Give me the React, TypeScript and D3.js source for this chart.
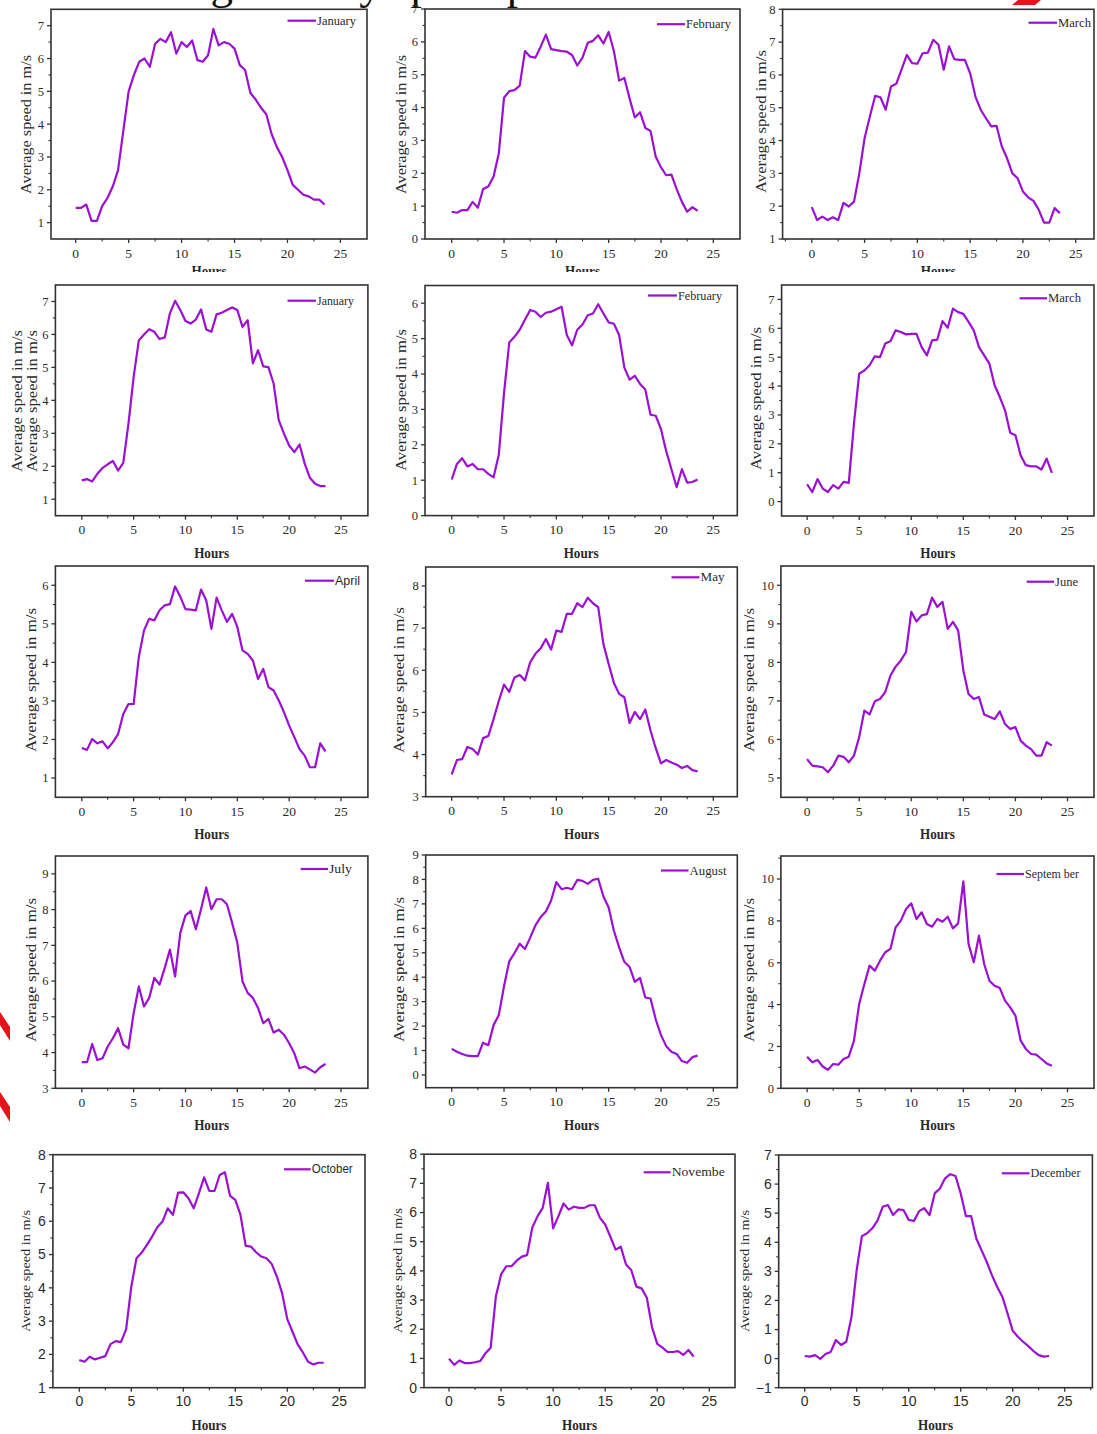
import React from 'react';
import * as d3 from 'd3';

// ---------- data ----------
const HOURS = [0, 0.5, 1, 1.5, 2, 2.5, 3, 3.5, 4, 4.5, 5, 5.5, 6, 6.5, 7, 7.5, 8, 8.5, 9, 9.5, 10, 10.5, 11, 11.5, 12, 12.5, 13, 13.5, 14, 14.5, 15, 15.5, 16, 16.5, 17, 17.5, 18, 18.5, 19, 19.5, 20, 20.5, 21, 21.5, 22, 22.5, 23, 23.5];
const X_TICKS = [0, 5, 10, 15, 20, 25];

const janA = [1.45,1.45,1.55,1.05,1.05,1.5,1.75,2.1,2.6,3.8,5.0,5.5,5.9,6.0,5.75,6.45,6.6,6.5,6.8,6.15,6.5,6.35,6.55,5.95,5.9,6.1,6.9,6.4,6.5,6.45,6.3,5.8,5.65,4.95,4.75,4.5,4.3,3.7,3.3,3.0,2.6,2.15,2.0,1.85,1.8,1.7,1.7,1.55];
const febA = [0.83,0.8,0.88,0.88,1.13,0.95,1.52,1.6,1.9,2.6,4.3,4.5,4.53,4.67,5.72,5.55,5.52,5.85,6.22,5.78,5.75,5.72,5.7,5.6,5.28,5.52,5.97,6.03,6.2,5.95,6.3,5.72,4.82,4.9,4.28,3.7,3.86,3.38,3.29,2.5,2.18,1.94,1.96,1.52,1.13,0.83,0.97,0.86];
const marA = [1.97,1.58,1.68,1.58,1.66,1.58,2.1,1.99,2.14,3.0,4.07,4.73,5.36,5.32,4.94,5.65,5.73,6.16,6.61,6.36,6.34,6.66,6.68,7.07,6.92,6.16,6.87,6.48,6.46,6.46,6.05,5.34,4.94,4.68,4.43,4.45,3.82,3.46,3.0,2.85,2.45,2.27,2.16,1.89,1.5,1.5,1.94,1.79];
const janB = [1.57,1.61,1.54,1.77,1.95,2.06,2.16,1.87,2.1,3.29,4.71,5.82,6.0,6.16,6.08,5.86,5.91,6.64,7.02,6.74,6.41,6.33,6.45,6.76,6.15,6.08,6.61,6.66,6.74,6.82,6.74,6.23,6.43,5.12,5.52,5.03,5.01,4.51,3.39,2.99,2.63,2.43,2.66,2.08,1.65,1.47,1.4,1.4];
const febB = [1.02,1.46,1.62,1.39,1.46,1.31,1.31,1.18,1.08,1.72,3.46,4.89,5.05,5.25,5.53,5.81,5.76,5.61,5.73,5.76,5.83,5.9,5.1,4.81,5.25,5.4,5.66,5.71,5.97,5.71,5.46,5.42,5.1,4.18,3.84,3.95,3.72,3.56,2.85,2.82,2.44,1.82,1.31,0.8,1.31,0.93,0.95,1.02];
const marB = [0.6,0.33,0.78,0.45,0.33,0.57,0.45,0.68,0.65,2.7,4.43,4.54,4.72,5.03,5.0,5.47,5.55,5.93,5.87,5.79,5.81,5.81,5.35,5.06,5.58,5.61,6.25,6.02,6.68,6.56,6.5,6.22,5.93,5.35,5.06,4.78,4.03,3.62,3.16,2.38,2.3,1.6,1.26,1.22,1.22,1.11,1.49,0.99];
const apr = [1.78,1.73,2.01,1.9,1.95,1.77,1.93,2.14,2.66,2.92,2.92,4.14,4.83,5.13,5.09,5.35,5.48,5.51,5.97,5.7,5.38,5.37,5.35,5.89,5.61,4.87,5.68,5.35,5.05,5.26,4.92,4.31,4.22,4.05,3.57,3.83,3.36,3.27,3.01,2.71,2.36,2.06,1.75,1.58,1.28,1.28,1.9,1.69];
const may = [3.53,3.87,3.89,4.18,4.13,4.0,4.39,4.44,4.84,5.27,5.66,5.49,5.83,5.89,5.76,6.19,6.39,6.52,6.74,6.49,6.94,6.91,7.34,7.34,7.59,7.5,7.72,7.59,7.5,6.62,6.15,5.7,5.44,5.36,4.75,5.01,4.84,5.07,4.57,4.15,3.79,3.87,3.81,3.76,3.68,3.73,3.63,3.6];
const jun = [5.49,5.32,5.3,5.28,5.15,5.32,5.58,5.55,5.41,5.58,6.06,6.75,6.65,6.99,7.05,7.23,7.66,7.89,8.05,8.27,9.31,9.06,9.22,9.25,9.68,9.44,9.57,8.87,9.05,8.83,7.79,7.18,7.05,7.1,6.65,6.59,6.53,6.73,6.4,6.27,6.32,5.97,5.84,5.75,5.58,5.58,5.93,5.84];
const jul = [3.73,3.73,4.24,3.79,3.84,4.17,4.4,4.68,4.22,4.12,5.1,5.85,5.29,5.53,6.09,5.9,6.37,6.88,6.13,7.35,7.84,7.96,7.45,8.01,8.62,8.01,8.29,8.29,8.15,7.63,7.07,5.99,5.67,5.53,5.25,4.82,4.94,4.56,4.64,4.5,4.26,3.98,3.56,3.61,3.53,3.44,3.59,3.68];
const aug = [1.07,0.95,0.86,0.79,0.77,0.77,1.32,1.22,2.04,2.45,3.63,4.65,4.99,5.37,5.15,5.62,6.12,6.46,6.69,7.14,7.89,7.6,7.66,7.6,7.98,7.94,7.82,7.98,8.03,7.3,6.85,5.9,5.22,4.63,4.42,3.81,3.97,3.17,3.13,2.27,1.63,1.18,0.95,0.86,0.57,0.5,0.73,0.79];
const sep = [1.51,1.24,1.35,1.04,0.88,1.16,1.13,1.4,1.51,2.28,4.03,4.98,5.86,5.62,6.1,6.5,6.66,7.69,8.01,8.57,8.84,8.09,8.41,7.85,7.72,8.09,7.96,8.2,7.64,7.88,9.89,6.9,6.02,7.29,5.94,5.14,4.9,4.79,4.19,3.87,3.47,2.28,1.88,1.64,1.61,1.4,1.19,1.08];
const oct = [1.83,1.78,1.93,1.85,1.9,1.95,2.31,2.4,2.37,2.75,4.04,4.89,5.06,5.29,5.54,5.82,5.99,6.39,6.19,6.86,6.87,6.69,6.39,6.84,7.32,6.91,6.91,7.39,7.47,6.76,6.64,6.19,5.26,5.24,5.07,4.94,4.89,4.72,4.34,3.84,3.06,2.68,2.3,2.06,1.78,1.7,1.75,1.75];
const nov = [0.99,0.78,0.93,0.84,0.84,0.87,0.91,1.18,1.37,3.12,3.88,4.16,4.16,4.35,4.49,4.54,5.49,5.87,6.16,7.02,5.46,5.87,6.31,6.1,6.2,6.16,6.16,6.25,6.25,5.82,5.59,5.17,4.73,4.83,4.22,4.03,3.46,3.4,3.08,2.07,1.5,1.37,1.22,1.22,1.25,1.12,1.29,1.06];
const dec = [0.09,0.07,0.12,-0.01,0.16,0.23,0.64,0.47,0.58,1.44,3.05,4.21,4.31,4.48,4.74,5.22,5.28,4.94,5.13,5.11,4.77,4.73,5.07,5.17,4.93,5.68,5.85,6.2,6.34,6.28,5.68,4.9,4.9,4.13,3.73,3.33,2.87,2.47,2.13,1.56,0.96,0.75,0.58,0.43,0.26,0.12,0.07,0.09];

const CAPTION = 'Average hourly speed profile';

// ---------- layout ----------
const SERIF = '"Liberation Serif", "Times New Roman", serif';
const SANS = '"Liberation Sans", Arial, sans-serif';
const PURPLE = '#9b10d2';
const INK = '#2a2a2a';

type Panel = {
  data: number[];
  label: string;
  left: number; right: number; top: number; bottom: number;
  x0: number; x25: number;
  yDomain: [number, number];
  yTicks: number[];
  yMinor: number;
  legend: [number, number, number, number];
  titles: number[];
  titleSpan: [number, number];
  row5?: boolean;
  legendSans?: boolean;
  hoursDy?: number;
};

const P: Panel[] = [
  { data: janA, label: 'January', left: 51, right: 367, top: 9.3, bottom: 239, x0: 75.7, x25: 340.4, yDomain: [0.5, 7.5], yTicks: [1,2,3,4,5,6,7], yMinor: 0.5, legend: [287.5, 316, 20.7, 39], titles: [25.5], titleSpan: [55, 194], hoursDy: 37 },
  { data: febA, label: 'February', left: 425, right: 740, top: 9, bottom: 239, x0: 451.7, x25: 713.3, yDomain: [0, 7], yTicks: [0,1,2,3,4,5,6,7], yMinor: 0.5, legend: [657, 685, 24.2, 45], titles: [400], titleSpan: [55, 194], hoursDy: 37 },
  { data: marA, label: 'March', left: 782.6, right: 1094, top: 9.3, bottom: 239, x0: 811.8, x25: 1075.7, yDomain: [1, 8], yTicks: [1,2,3,4,5,6,7,8], yMinor: 0.5, legend: [1028.5, 1057, 22.7, 33], titles: [760], titleSpan: [50, 193], hoursDy: 37 },
  { data: janB, label: 'January', left: 55.4, right: 367.9, top: 285, bottom: 515.7, x0: 81.8, x25: 341, yDomain: [0.5, 7.5], yTicks: [1,2,3,4,5,6,7], yMinor: 0.5, legend: [287.5, 316, 300.7, 37], titles: [16, 31], titleSpan: [330, 472] },
  { data: febB, label: 'February', left: 425, right: 737.3, top: 285.5, bottom: 515.6, x0: 451.7, x25: 713.3, yDomain: [0, 6.5], yTicks: [0,1,2,3,4,5,6], yMinor: 0.5, legend: [648, 677, 295.5, 44], titles: [400], titleSpan: [329, 471] },
  { data: marB, label: 'March', left: 781.6, right: 1094, top: 285, bottom: 516, x0: 807.1, x25: 1067.5, yDomain: [-0.5, 7.5], yTicks: [0,1,2,3,4,5,6,7], yMinor: 0.5, legend: [1019.6, 1047, 298.3, 33], titles: [755], titleSpan: [327, 470] },
  { data: apr, label: 'April', left: 55.4, right: 367.9, top: 566, bottom: 797.3, x0: 81.8, x25: 341, yDomain: [0.5, 6.5], yTicks: [1,2,3,4,5,6], yMinor: 0.5, legend: [305, 334, 580.7, 25], titles: [30], titleSpan: [608, 752], legendSans: true },
  { data: may, label: 'May', left: 425.7, right: 737.3, top: 567, bottom: 796.7, x0: 451.7, x25: 713.3, yDomain: [3, 8.45], yTicks: [3,4,5,6,7,8], yMinor: 0.5, legend: [671.5, 699.5, 577.3, 24], titles: [398], titleSpan: [607, 753] },
  { data: jun, label: 'June', left: 780.9, right: 1094, top: 566, bottom: 797.3, x0: 807.1, x25: 1067.5, yDomain: [4.5, 10.5], yTicks: [5,6,7,8,9,10], yMinor: 0.5, legend: [1026.7, 1054, 581.7, 23], titles: [748], titleSpan: [608, 752] },
  { data: jul, label: 'July', left: 55.4, right: 367.9, top: 856, bottom: 1088.3, x0: 81.8, x25: 341, yDomain: [3, 9.5], yTicks: [3,4,5,6,7,8,9], yMinor: 0.5, legend: [300.7, 328, 869, 23], titles: [30], titleSpan: [898, 1042] },
  { data: aug, label: 'August', left: 425.7, right: 737.3, top: 855, bottom: 1087.7, x0: 451.7, x25: 713.3, yDomain: [-0.52, 9], yTicks: [0,1,2,3,4,5,6,7,8,9], yMinor: 0.5, legend: [661, 688.5, 870.5, 37], titles: [398], titleSpan: [897, 1042] },
  { data: sep, label: 'Septem ber', left: 780.9, right: 1094, top: 856, bottom: 1088.3, x0: 807.1, x25: 1067.5, yDomain: [0, 11.1], yTicks: [0,2,4,6,8,10], yMinor: 1, legend: [996.5, 1024, 874, 54], titles: [748], titleSpan: [898, 1042] },
  { data: oct, label: 'October', left: 52.9, right: 365, top: 1154.7, bottom: 1387.7, x0: 79.3, x25: 339.3, yDomain: [1, 8], yTicks: [1,2,3,4,5,6,7,8], yMinor: 0.5, legend: [284, 310.7, 1169.3, 41], titles: [25.5], titleSpan: [1210, 1332], row5: true, legendSans: true },
  { data: nov, label: 'Novembe', left: 424, right: 735, top: 1154.2, bottom: 1387.6, x0: 449, x25: 709.3, yDomain: [0, 8], yTicks: [0,1,2,3,4,5,6,7,8], yMinor: 0.5, legend: [643.7, 670.7, 1172.3, 53], titles: [397], titleSpan: [1208, 1333], row5: true },
  { data: dec, label: 'December', left: 778.7, right: 1092.4, top: 1155, bottom: 1387.7, x0: 804.7, x25: 1064.7, yDomain: [-1, 7], yTicks: [-1,0,1,2,3,4,5,6,7], yMinor: 0.5, legend: [1001.8, 1029.5, 1173.3, 50], titles: [744], titleSpan: [1210, 1332], row5: true },
];

function fmt(v: number) {
  return v < 0 ? '\u2212' + Math.abs(v) : String(v);
}

function PanelView({ p }: { p: Panel }) {
  const x = d3.scaleLinear().domain([0, 25]).range([p.x0, p.x25]);
  const y = d3.scaleLinear().domain(p.yDomain).range([p.bottom, p.top]);
  const line = d3.line<number>().x((_, i) => x(HOURS[i])).y((d) => y(d));
  const xMinor = d3.range(-2.5, 28, 2.5).filter((v) => Math.abs(v % 5) > 0.01 && x(v) > p.left + 1 && x(v) < p.right - 1);
  const yMinorTicks = d3
    .range(Math.ceil(p.yDomain[0] / p.yMinor) * p.yMinor, p.yDomain[1] + 1e-6, p.yMinor)
    .filter((v) => !p.yTicks.some((t) => Math.abs(t - v) < 1e-6) && y(v) < p.bottom - 1 && y(v) > p.top + 1);
  const tickFont = p.row5 ? SANS : SERIF;
  const yFs = p.row5 ? 14 : 12.5;
  const xFs = p.row5 ? 14 : 13.5;
  const titleMid = (p.titleSpan[0] + p.titleSpan[1]) / 2;
  const titleLen = p.titleSpan[1] - p.titleSpan[0];
  const [lx1, lx2, ly, lw] = p.legend;
  return (
    <g>
      <path d={line(p.data) || ''} fill="none" stroke={PURPLE} strokeWidth={2.2} strokeLinejoin="round" />
      <rect x={p.left} y={p.top} width={p.right - p.left} height={p.bottom - p.top} fill="none" stroke="#333" strokeWidth={1.6} />
      {X_TICKS.map((t) => (
        <g key={'xt' + t}>
          <line x1={x(t)} x2={x(t)} y1={p.bottom} y2={p.bottom + 4} stroke="#333" strokeWidth={1.3} />
          <text x={x(t)} y={p.bottom + 18.5} textAnchor="middle" fontFamily={tickFont} fontSize={xFs} fill={INK}>{t}</text>
        </g>
      ))}
      {xMinor.map((t) => (
        <line key={'xm' + t} x1={x(t)} x2={x(t)} y1={p.bottom} y2={p.bottom + 2.5} stroke="#333" strokeWidth={1.1} />
      ))}
      {p.yTicks.map((t) => (
        <g key={'yt' + t}>
          <line x1={p.left - 4} x2={p.left} y1={y(t)} y2={y(t)} stroke="#333" strokeWidth={1.3} />
          <text x={p.left - 7} y={y(t)} dy="0.35em" textAnchor="end" fontFamily={tickFont} fontSize={yFs} fill={INK}>{fmt(t)}</text>
        </g>
      ))}
      {yMinorTicks.map((t) => (
        <line key={'ym' + t} x1={p.left - 2.5} x2={p.left} y1={y(t)} y2={y(t)} stroke="#333" strokeWidth={1.1} />
      ))}
      {p.titles.map((tx, i) => (
        <text
          key={'ti' + i}
          transform={`translate(${tx + (p.row5 ? 4.5 : 5.5)},${titleMid}) rotate(-90)`}
          textAnchor="middle"
          fontFamily={SERIF}
          fontSize={p.row5 ? 12 : 15}
          fill={INK}
          textLength={titleLen}
          lengthAdjust="spacingAndGlyphs"
        >
          Average speed in m/s
        </text>
      ))}
      <text x={(p.left + p.right) / 2} y={p.bottom + (p.hoursDy ?? 42)} textAnchor="middle" fontFamily={SERIF} fontWeight="bold" fontSize={14} fill={INK} textLength={35} lengthAdjust="spacingAndGlyphs">
        Hours
      </text>
      <line x1={lx1} x2={lx2} y1={ly} y2={ly} stroke={PURPLE} strokeWidth={2.2} />
      <text x={lx2 + 1} y={ly + 4} fontFamily={p.legendSans ? SANS : SERIF} fontSize={12} fill={INK} textLength={lw} lengthAdjust="spacingAndGlyphs">
        {p.label}
      </text>
    </g>
  );
}

export default function App() {
  return (
    <svg width={1097} height={1434} viewBox="0 0 1097 1434" style={{ position: 'absolute', left: 0, top: 0, background: '#fff' }}>
      <defs>
        <clipPath id="row1clip">
          <rect x={0} y={0} width={1097} height={272} />
        </clipPath>
      </defs>
      <rect x={0} y={0} width={1097} height={1434} fill="#fff" />
      <text x={104} y={-1.5} fontFamily={SERIF} fontSize={45} fill="#111">{CAPTION}</text>
      <g clipPath="url(#row1clip)">
        {P.slice(0, 3).map((p, i) => (
          <PanelView key={i} p={p} />
        ))}
      </g>
      {P.slice(3).map((p, i) => (
        <PanelView key={i + 3} p={p} />
      ))}
      <polygon points="1018,0 1041,0 1035,5 1012,5" fill="#e8131a" />
      <polygon points="0,1012 10,1027 10,1041 0,1025" fill="#e8131a" />
      <polygon points="0,1092 10,1107 10,1122 0,1106" fill="#e8131a" />
    </svg>
  );
}
